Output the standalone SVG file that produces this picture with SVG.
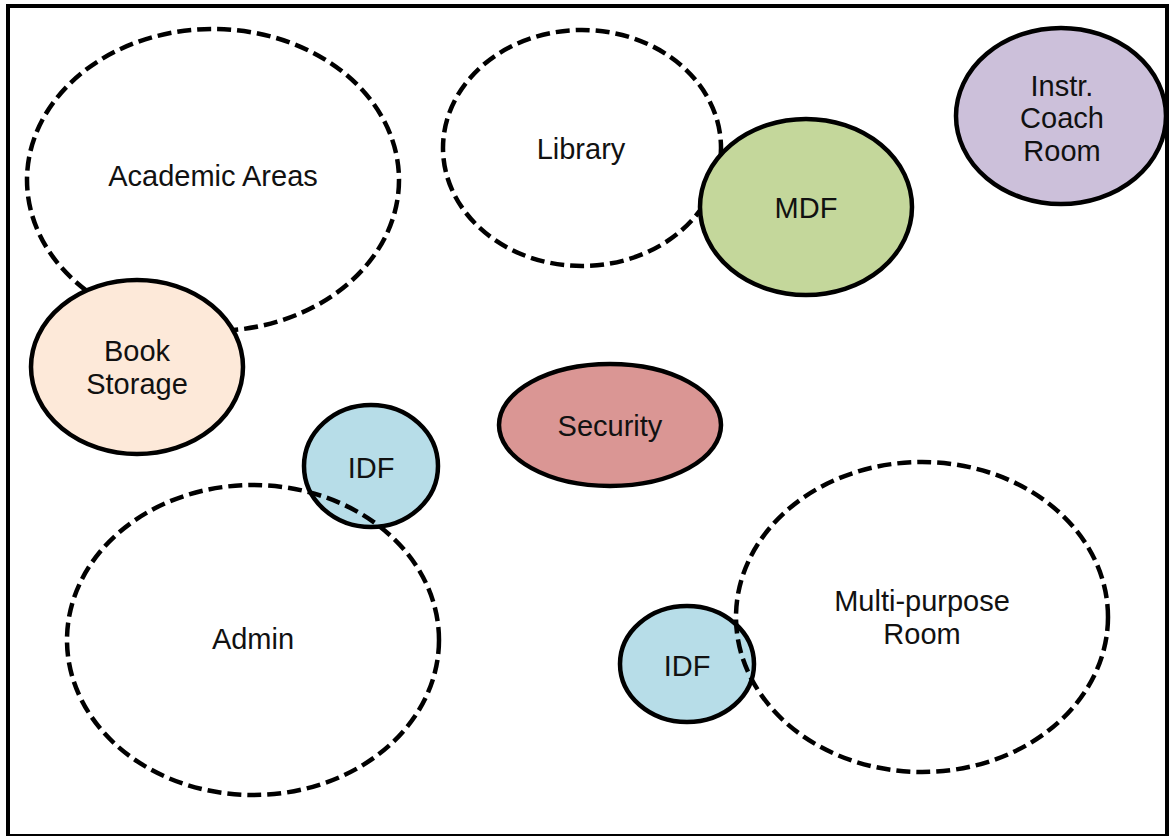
<svg xmlns="http://www.w3.org/2000/svg" width="1170" height="836" viewBox="0 0 1170 836">
  <style>
    .zone { fill: none; stroke: #000; stroke-width: 4.5; stroke-dasharray: 14 6; }
    .room { stroke: #000; stroke-width: 4.5; }
    .lbl { font-family: "Liberation Sans", Arial, sans-serif; font-size: 29px; fill: #111; text-anchor: middle; }
  </style>
  <rect x="0" y="0" width="1170" height="836" fill="#fff"/>
  <!-- outer boundary -->
  <rect x="8" y="6" width="1159" height="830" fill="none" stroke="#000" stroke-width="4"/>

  <g id="academic-areas">
    <ellipse class="zone" cx="213" cy="180" rx="186" ry="151"/>
    <text class="lbl" x="213" y="186">Academic Areas</text>
  </g>
  <g id="library">
    <ellipse class="zone" cx="582" cy="148" rx="139" ry="118"/>
    <text class="lbl" x="581" y="159">Library</text>
  </g>
  <g id="mdf">
    <ellipse class="room" fill="#c4d79b" cx="806" cy="207" rx="106" ry="88"/>
    <text class="lbl" x="806" y="218">MDF</text>
  </g>
  <g id="instr-coach-room">
    <ellipse class="room" fill="#ccc0da" cx="1061" cy="116" rx="105" ry="88"/>
    <text class="lbl" x="1062" y="96">Instr.</text>
    <text class="lbl" x="1062" y="128">Coach</text>
    <text class="lbl" x="1062" y="161">Room</text>
  </g>
  <g id="book-storage">
    <ellipse class="room" fill="#fde9d9" cx="137" cy="367" rx="106" ry="87"/>
    <text class="lbl" x="137" y="361">Book</text>
    <text class="lbl" x="137" y="394">Storage</text>
  </g>
  <g id="security">
    <ellipse class="room" fill="#da9694" cx="610" cy="425" rx="111" ry="61"/>
    <text class="lbl" x="610" y="436">Security</text>
  </g>
  <g id="idf-admin">
    <ellipse class="room" fill="#b7dde8" cx="371" cy="466" rx="67" ry="61"/>
    <text class="lbl" x="371" y="478">IDF</text>
  </g>
  <g id="admin">
    <ellipse class="zone" cx="253" cy="640" rx="186" ry="155"/>
    <text class="lbl" x="253" y="649">Admin</text>
  </g>
  <g id="idf-multipurpose">
    <ellipse class="room" fill="#b7dde8" cx="687" cy="664" rx="67" ry="58"/>
    <text class="lbl" x="687" y="676">IDF</text>
  </g>
  <g id="multi-purpose-room">
    <ellipse class="zone" cx="922" cy="617" rx="186" ry="155"/>
    <text class="lbl" x="922" y="611">Multi-purpose</text>
    <text class="lbl" x="922" y="644">Room</text>
  </g>
  <g id="connectors"/>
</svg>
